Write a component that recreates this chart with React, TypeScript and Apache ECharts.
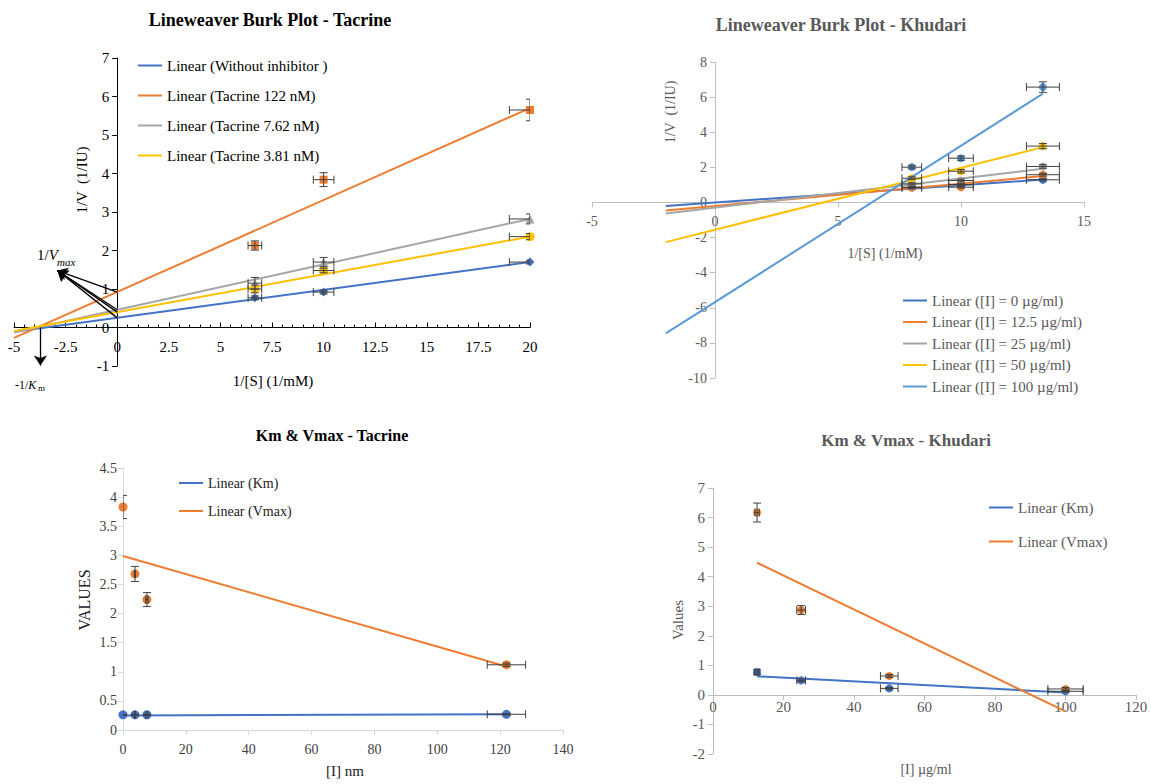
import React, { useEffect, useRef } from 'react';
import * as echarts from 'echarts';

const FONT = '"Liberation Serif", "Times New Roman", serif';
const C_BLUE = '#4472C4';
const C_ORANGE = '#ED7D31';
const C_GRAY = '#A5A5A5';
const C_YELLOW = '#FFC000';
const C_LBLUE = '#5B9BD5';

// ---------- Panel 1: Lineweaver Burk Plot - Tacrine ----------
const tacLbX = [6.67, 10, 20];
const tacLbXErr = [0.33, 0.5, 1.0];
const tacLbNames = ['Without inhibitor ', 'Tacrine 122 nM', 'Tacrine 7.62 nM', 'Tacrine 3.81 nM'];
const tacLbColors = [C_BLUE, C_ORANGE, C_GRAY, C_YELLOW];
const tacLbSymbols = ['diamond', 'rect', 'triangle', 'circle'];
const tacLbWithout = [0.77, 0.92, 1.70];
const tacLb122 = [2.13, 3.84, 5.65];
const tacLb762 = [1.15, 1.70, 2.82];
const tacLb381 = [1.00, 1.48, 2.36];
const tacLbYErrWithout = [0.05, 0.05, 0.05];
const tacLbYErr122 = [0.12, 0.18, 0.28];
const tacLbYErr762 = [0.15, 0.12, 0.13];
const tacLbYErr381 = [0.1, 0.06, 0.08];
const tacLbTrendX = [-5, 20];
const tacLbTrendWithout = [-0.11, 1.70];
const tacLbTrend122 = [-0.27, 5.70];
const tacLbTrend762 = [-0.13, 2.82];
const tacLbTrend381 = [-0.09, 2.36];
const tacVmaxIntercepts = [0.25, 0.92, 0.46, 0.40];
const tacVmaxArrowTip = [-2.9, 1.48];
const tacKmArrow = [-3.72, 0, -0.99];

// ---------- Panel 2: Lineweaver Burk Plot - Khudari ----------
const khuLbX = [8, 10, 13.33];
const khuLbXErr = [0.4, 0.5, 0.67];
const khuLbNames = ['[I] = 0 µg/ml', '[I] = 12.5 µg/ml', '[I] = 25 µg/ml', '[I] = 50 µg/ml', '[I] = 100 µg/ml'];
const khuLbColors = [C_BLUE, C_ORANGE, C_GRAY, C_YELLOW, C_LBLUE];
const khuLb0 = [0.87, 1.02, 1.29];
const khuLb125 = [0.84, 0.87, 1.58];
const khuLb25 = [1.06, 1.25, 2.05];
const khuLb50 = [1.38, 1.78, 3.21];
const khuLb100 = [2.01, 2.52, 6.57];
const khuLbYErr0 = [0.05, 0.05, 0.06];
const khuLbYErr125 = [0.05, 0.05, 0.08];
const khuLbYErr25 = [0.06, 0.08, 0.1];
const khuLbYErr50 = [0.08, 0.1, 0.15];
const khuLbYErr100 = [0.1, 0.12, 0.3];
const khuLbTrendX = [-2, 13.33];
const khuLbTrend0 = [-0.2, 1.3];
const khuLbTrend125 = [-0.46, 1.5];
const khuLbTrend25 = [-0.63, 1.92];
const khuLbTrend50 = [-2.26, 3.15];
const khuLbTrend100 = [-7.46, 6.2];

// ---------- Panel 3: Km & Vmax - Tacrine ----------
const tacKvX = [0, 3.81, 7.62, 122];
const tacKvXErr = [0, 0.19, 0.38, 6.1];
const tacKm = [0.26, 0.26, 0.26, 0.27];
const tacVmax = [3.83, 2.68, 2.24, 1.12];
const tacKmYErr = [0.01, 0.01, 0.01, 0.01];
const tacVmaxYErr = [0.2, 0.13, 0.12, 0.03];
const tacKvTrendX = [0, 122];
const tacKmTrend = [0.25, 0.27];
const tacVmaxTrend = [2.99, 1.09];

// ---------- Panel 4: Km & Vmax - Khudari ----------
const khuKvX = [12.5, 25, 50, 100];
const khuKvXErr = [0.62, 1.25, 2.5, 5];
const khuKm = [0.77, 0.49, 0.22, 0.12];
const khuVmax = [6.17, 2.87, 0.64, 0.2];
const khuKmYErr = [0.08, 0.05, 0.03, 0.03];
const khuVmaxYErr = [0.32, 0.15, 0.05, 0.05];
const khuKvTrendX = [12.5, 100];
const khuKmTrend = [0.63, 0.08];
const khuVmaxTrend = [4.47, -0.56];

// grid boxes (pixels)
const GRIDS = [
  { left: 14, top: 58, width: 516, height: 308 },
  { left: 592, top: 62, width: 492, height: 316 },
  { left: 123, top: 468, width: 440, height: 262 },
  { left: 713, top: 488, width: 423, height: 266 },
];

function zip(xs: number[], ys: number[]) {
  return xs.map((x, i) => [x, ys[i]]);
}

function errSeries(gi: number, xs: number[], ys: number[], xe: number[], ye: number[], color: string) {
  return {
    type: 'custom',
    xAxisIndex: gi,
    yAxisIndex: gi,
    clip: true,
    silent: true,
    z: 4,
    data: xs.map((x, i) => [x, ys[i], xe[i], ye[i]]),
    encode: { x: 0, y: 1 },
    renderItem: (params: any, api: any) => {
      const x = api.value(0);
      const y = api.value(1);
      const ex = api.value(2);
      const ey = api.value(3);
      const st = { stroke: color, lineWidth: 1 };
      const cap = 4;
      const children: any[] = [];
      if (ex > 0) {
        const a = api.coord([x - ex, y]);
        const b = api.coord([x + ex, y]);
        children.push({ type: 'line', shape: { x1: a[0], y1: a[1], x2: b[0], y2: b[1] }, style: st });
        children.push({ type: 'line', shape: { x1: a[0], y1: a[1] - cap, x2: a[0], y2: a[1] + cap }, style: st });
        children.push({ type: 'line', shape: { x1: b[0], y1: b[1] - cap, x2: b[0], y2: b[1] + cap }, style: st });
      }
      if (ey > 0) {
        const a = api.coord([x, y + ey]);
        const b = api.coord([x, y - ey]);
        children.push({ type: 'line', shape: { x1: a[0], y1: a[1], x2: b[0], y2: b[1] }, style: st });
        children.push({ type: 'line', shape: { x1: a[0] - cap, y1: a[1], x2: a[0] + cap, y2: a[1] }, style: st });
        children.push({ type: 'line', shape: { x1: b[0] - cap, y1: b[1], x2: b[0] + cap, y2: b[1] }, style: st });
      }
      return { type: 'group', children };
    },
  };
}

function trendSeries(gi: number, name: string, xs: number[], ys: number[], color: string, extra: any = {}) {
  return {
    type: 'line',
    name,
    xAxisIndex: gi,
    yAxisIndex: gi,
    data: zip(xs, ys),
    symbol: 'none',
    showSymbol: false,
    silent: true,
    z: 3,
    lineStyle: { color, width: 2 },
    itemStyle: { color },
    ...extra,
  };
}

function pointSeries(gi: number, name: string, xs: number[], ys: number[], color: string, symbol = 'circle', size = 8) {
  return {
    type: 'scatter',
    name,
    xAxisIndex: gi,
    yAxisIndex: gi,
    data: zip(xs, ys),
    symbol,
    symbolSize: size,
    z: 2,
    itemStyle: { color, opacity: 1 },
  };
}

function txt(x: number, y: number, text: string, size: number, color: string, opts: any = {}) {
  return {
    type: 'text',
    x,
    y,
    rotation: opts.rotation || 0,
    silent: true,
    style: {
      text,
      fill: color,
      fontSize: size,
      fontFamily: FONT,
      fontWeight: opts.bold ? 'bold' : 'normal',
      fontStyle: opts.italic ? 'italic' : 'normal',
      textAlign: opts.align || 'center',
      textVerticalAlign: 'middle',
      align: opts.align || 'center',
      verticalAlign: 'middle',
      rich: opts.rich,
    },
  };
}

// offset that moves an axis from the grid edge to the zero of the other axis
function zeroOffset(min: number, max: number, lengthPx: number) {
  return -((0 - min) / (max - min)) * lengthPx;
}

function valueAxis(gi: number, min: number, max: number, interval: number, o: any) {
  return {
    type: 'value',
    gridIndex: gi,
    min,
    max,
    interval,
    offset: o.offset || 0,
    splitLine: { show: false },
    axisLine: { show: true, onZero: false, lineStyle: { color: o.lineColor, width: 1 } },
    axisTick: { show: true, inside: !!o.tickInside, length: 5, lineStyle: { color: o.lineColor } },
    minorTick: o.minor ? { show: true, splitNumber: 5, length: 3, lineStyle: { color: o.lineColor } } : { show: false },
    axisLabel: { fontFamily: FONT, fontSize: o.fontSize, color: o.labelColor, margin: o.margin },
  };
}

export default function App() {
  const ref = useRef<HTMLDivElement>(null);
  useEffect(() => {
    if (!ref.current) return;
    const chart = echarts.init(ref.current, null, { renderer: 'svg' });

    const tacLbY = [tacLbWithout, tacLb122, tacLb762, tacLb381];
    const tacLbYErr = [tacLbYErrWithout, tacLbYErr122, tacLbYErr762, tacLbYErr381];
    const tacLbTrend = [tacLbTrendWithout, tacLbTrend122, tacLbTrend762, tacLbTrend381];
    const khuLbY = [khuLb0, khuLb125, khuLb25, khuLb50, khuLb100];
    const khuLbYErr = [khuLbYErr0, khuLbYErr125, khuLbYErr25, khuLbYErr50, khuLbYErr100];
    const khuLbTrend = [khuLbTrend0, khuLbTrend125, khuLbTrend25, khuLbTrend50, khuLbTrend100];

    const series: any[] = [];

    // Panel 1
    tacLbNames.forEach((n, i) => {
      series.push(pointSeries(0, n, tacLbX, tacLbY[i], tacLbColors[i], tacLbSymbols[i], i === 1 ? 8 : 9));
    });
    tacLbNames.forEach((n, i) => {
      const extra: any = {};
      if (i === 0) {
        const lines: any[] = tacVmaxIntercepts.map((v) => [
          { coord: [0, v] },
          { coord: tacVmaxArrowTip },
        ]);
        lines.push([{ coord: [tacKmArrow[0], tacKmArrow[1]] }, { coord: [tacKmArrow[0], tacKmArrow[2]] }]);
        extra.markLine = {
          silent: true,
          symbol: ['none', 'arrow'],
          symbolSize: 10,
          label: { show: false },
          lineStyle: { color: '#000', width: 1.3, type: 'solid' },
          data: lines,
        };
      }
      series.push(trendSeries(0, 'Linear (' + n + ')', tacLbTrendX, tacLbTrend[i], tacLbColors[i], extra));
    });
    tacLbNames.forEach((n, i) => {
      series.push(errSeries(0, tacLbX, tacLbY[i], tacLbXErr, tacLbYErr[i], '#404040'));
    });

    // Panel 2
    khuLbNames.forEach((n, i) => {
      series.push(pointSeries(1, n, khuLbX, khuLbY[i], khuLbColors[i], 'circle', 8));
    });
    khuLbNames.forEach((n, i) => {
      series.push(trendSeries(1, 'Linear (' + n + ')', khuLbTrendX, khuLbTrend[i], khuLbColors[i]));
    });
    khuLbNames.forEach((n, i) => {
      series.push(errSeries(1, khuLbX, khuLbY[i], khuLbXErr, khuLbYErr[i], '#404040'));
    });

    // Panel 3
    series.push(pointSeries(2, 'Km (Tacrine)', tacKvX, tacKm, C_BLUE, 'circle', 9));
    series.push(pointSeries(2, 'Vmax (Tacrine)', tacKvX, tacVmax, C_ORANGE, 'circle', 9));
    series.push(trendSeries(2, 'Linear (Km)', tacKvTrendX, tacKmTrend, C_BLUE));
    series.push(trendSeries(2, 'Linear (Vmax)', tacKvTrendX, tacVmaxTrend, C_ORANGE));
    series.push(errSeries(2, tacKvX, tacKm, tacKvXErr, tacKmYErr, '#404040'));
    series.push(errSeries(2, tacKvX, tacVmax, tacKvXErr, tacVmaxYErr, '#404040'));

    // Panel 4
    series.push(pointSeries(3, 'Km (Khudari)', khuKvX, khuKm, C_BLUE, 'circle', 8));
    series.push(pointSeries(3, 'Vmax (Khudari)', khuKvX, khuVmax, C_ORANGE, 'circle', 8));
    series.push(trendSeries(3, 'Linear (Km) ', khuKvTrendX, khuKmTrend, C_BLUE));
    series.push(trendSeries(3, 'Linear (Vmax) ', khuKvTrendX, khuVmaxTrend, C_ORANGE));
    series.push(errSeries(3, khuKvX, khuKm, khuKvXErr, khuKmYErr, '#404040'));
    series.push(errSeries(3, khuKvX, khuVmax, khuKvXErr, khuVmaxYErr, '#404040'));

    const legendBase = {
      orient: 'vertical',
      itemWidth: 24,
      itemHeight: 14,
      padding: 0,
      selectedMode: false,
      itemStyle: { opacity: 0, color: 'rgba(0,0,0,0)', borderWidth: 0 },
      lineStyle: { width: 2 },
    };

    const option: any = {
      animation: false,
      backgroundColor: '#ffffff',
      grid: GRIDS,
      xAxis: [
        valueAxis(0, -5, 20, 2.5, {
          lineColor: '#000', labelColor: '#000', fontSize: 15, margin: 12, tickInside: true, minor: true,
          offset: zeroOffset(-1, 7, GRIDS[0].height),
        }),
        valueAxis(1, -5, 15, 5, {
          lineColor: '#BFBFBF', labelColor: '#595959', fontSize: 14, margin: 12,
          offset: zeroOffset(-10, 8, GRIDS[1].height),
        }),
        valueAxis(2, 0, 140, 20, { lineColor: '#D9D9D9', labelColor: '#404040', fontSize: 14, margin: 12 }),
        valueAxis(3, 0, 120, 20, {
          lineColor: '#BFBFBF', labelColor: '#595959', fontSize: 15, margin: 5,
          offset: zeroOffset(-2, 7, GRIDS[3].height),
        }),
      ],
      yAxis: [
        valueAxis(0, -1, 7, 1, {
          lineColor: '#000', labelColor: '#000', fontSize: 15, margin: 8,
          offset: zeroOffset(-5, 20, GRIDS[0].width),
        }),
        valueAxis(1, -10, 8, 2, {
          lineColor: '#BFBFBF', labelColor: '#595959', fontSize: 14, margin: 8,
          offset: zeroOffset(-5, 15, GRIDS[1].width),
        }),
        valueAxis(2, 0, 4.5, 0.5, { lineColor: '#D9D9D9', labelColor: '#404040', fontSize: 14, margin: 6 }),
        valueAxis(3, -2, 7, 1, { lineColor: '#BFBFBF', labelColor: '#595959', fontSize: 15, margin: 8 }),
      ],
      legend: [
        {
          ...legendBase,
          left: 137,
          top: 58,
          itemGap: 15,
          data: tacLbNames.map((n) => 'Linear (' + n + ')'),
          textStyle: { fontFamily: FONT, fontSize: 15, color: '#000' },
        },
        {
          ...legendBase,
          left: 902,
          top: 293,
          itemGap: 6.5,
          data: khuLbNames.map((n) => 'Linear (' + n + ')'),
          textStyle: { fontFamily: FONT, fontSize: 15, color: '#595959' },
        },
        {
          ...legendBase,
          left: 178,
          top: 476,
          itemGap: 14,
          data: ['Linear (Km)', 'Linear (Vmax)'],
          textStyle: { fontFamily: FONT, fontSize: 14, color: '#222' },
        },
        {
          ...legendBase,
          left: 988,
          top: 500,
          itemGap: 19,
          data: ['Linear (Km) ', 'Linear (Vmax) '],
          formatter: (n: string) => n.trim(),
          textStyle: { fontFamily: FONT, fontSize: 15, color: '#595959' },
        },
      ],
      graphic: [
        // titles
        txt(270, 20, 'Lineweaver Burk Plot - Tacrine', 18, '#000', { bold: true }),
        txt(841, 25, 'Lineweaver Burk Plot - Khudari', 18, '#595959', { bold: true }),
        txt(332, 435, 'Km & Vmax - Tacrine', 16, '#000', { bold: true }),
        txt(906, 440, 'Km & Vmax - Khudari', 17, '#595959', { bold: true }),
        // axis names
        txt(82, 180, '1/V  (1/IU)', 15, '#000', { rotation: Math.PI / 2 }),
        txt(273, 381, '1/[S] (1/mM)', 15, '#000'),
        txt(670, 112, '1/V  (1/IU)', 14, '#595959', { rotation: Math.PI / 2 }),
        txt(885, 253, '1/[S] (1/mM)', 14, '#595959'),
        txt(84, 600, 'VALUES', 16, '#222', { rotation: Math.PI / 2 }),
        txt(345, 771, '[I] nm', 15, '#222'),
        txt(678, 620, 'Values', 15, '#595959', { rotation: Math.PI / 2 }),
        txt(926, 769, '[I] µg/ml', 14, '#595959'),
        // annotations
        txt(37, 255, '{a|1/}{b|V}', 15, '#000', {
          align: 'left',
          rich: {
            a: { fontFamily: FONT, fontSize: 15, fill: '#000' },
            b: { fontFamily: FONT, fontSize: 15, fontStyle: 'italic', fill: '#000' },
          },
        }),
        txt(57, 262, 'max', 11, '#000', { align: 'left', italic: true }),
        txt(15, 385, '{a|-1/}{b|K}', 12, '#000', {
          align: 'left',
          rich: {
            a: { fontFamily: FONT, fontSize: 12, fill: '#000' },
            b: { fontFamily: FONT, fontSize: 12, fontStyle: 'italic', fill: '#000' },
          },
        }),
        txt(38, 388, 'm', 9, '#000', { align: 'left' }),
      ],
      series,
    };

    chart.setOption(option);
    return () => chart.dispose();
  }, []);

  return (
    <div
      ref={ref}
      style={{ position: 'fixed', left: 0, top: 0, width: 1151, height: 784, background: '#fff' }}
    />
  );
}
